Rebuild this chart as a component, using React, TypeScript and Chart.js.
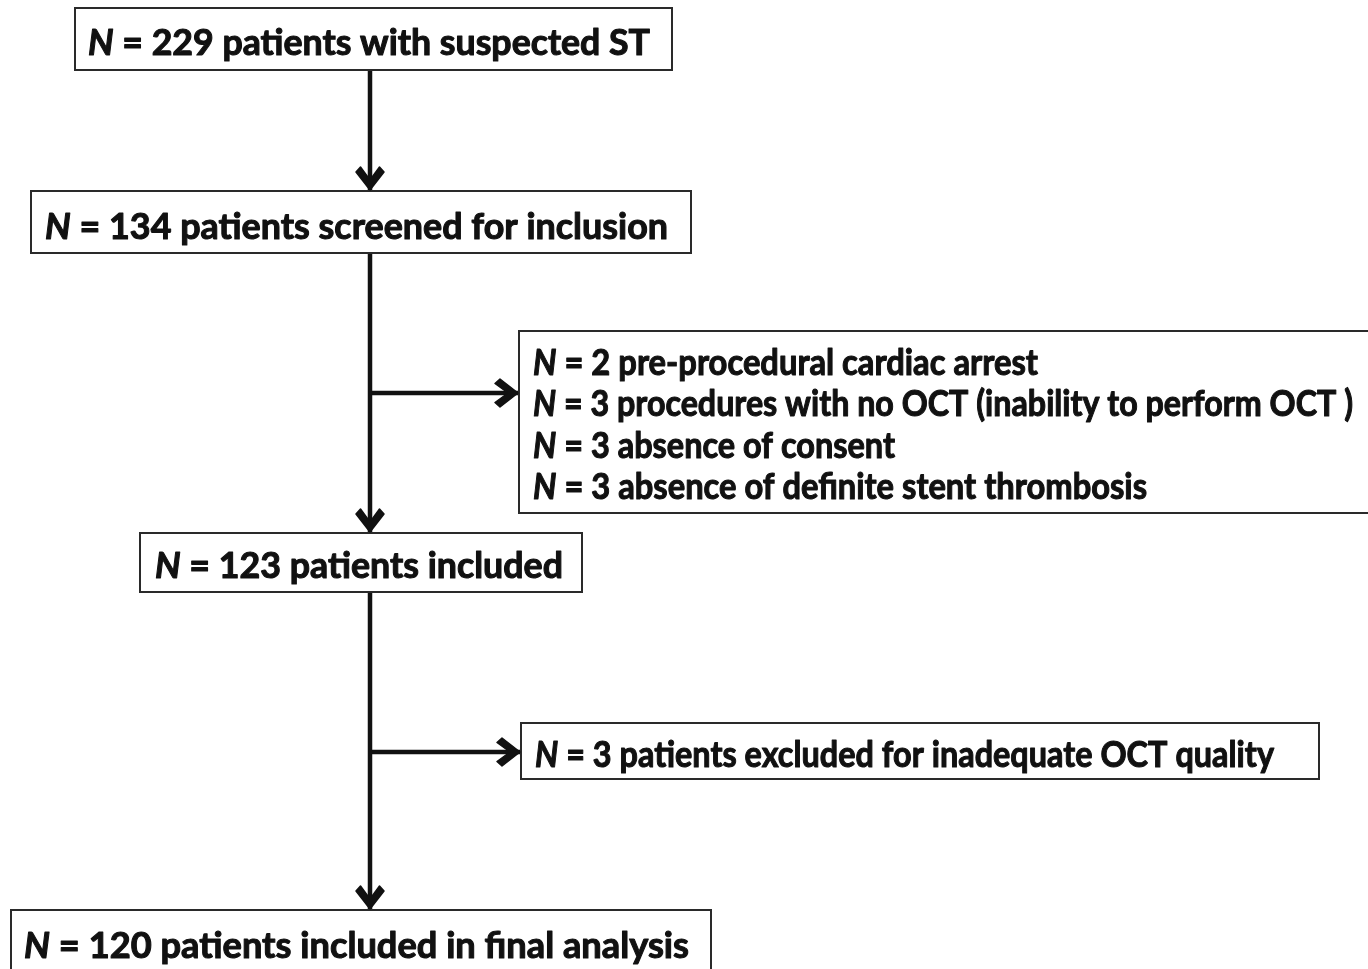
import React, { useEffect, useRef } from "react";
import { Chart, registerables } from "chart.js";

Chart.register(...registerables);

// ---- data ----
const stepCounts = [229, 134, 123, 120];
const stepTexts = [
  "patients with suspected ST",
  "patients screened for inclusion",
  "patients included",
  "patients included in final analysis",
];
const exclusionCountsA = [2, 3, 3, 3];
const exclusionTextsA = [
  "pre-procedural cardiac arrest",
  "procedures with no OCT (inability to perform OCT )",
  "absence of consent",
  "absence of definite stent thrombosis",
];
const exclusionCountsB = [3];
const exclusionTextsB = ["patients excluded for inadequate OCT quality"];

// ---- layout (in axis units, 1 unit = 1 px of the page) ----
const W = 1368;
const H = 969;
const TRUNK_X = 370;
const mainBoxes = [
  { x0: 75, x1: 672, y0: 8, y1: 70, tx: 88, te: 650, ty: 42 },
  { x0: 31, x1: 691, y0: 191, y1: 253, tx: 45, te: 668, ty: 226 },
  { x0: 140, x1: 582, y0: 533, y1: 592, tx: 155, te: 563, ty: 565 },
  { x0: 11, x1: 711, y0: 910, y1: 990, tx: 24, te: 689, ty: 945 },
];
const sideBoxA = {
  x0: 519, x1: 1380, y0: 331, y1: 513, tx: 533,
  lines: [362, 403, 445, 486],
  ends: [1038, 1353, 895, 1147],
};
const sideBoxB = { x0: 521, x1: 1319, y0: 723, y1: 779, tx: 535, lines: [754], ends: [1274] };
const connectors = [
  { from: [TRUNK_X, 70], to: [TRUNK_X, 190] },
  { from: [TRUNK_X, 253], to: [TRUNK_X, 532] },
  { from: [TRUNK_X, 592], to: [TRUNK_X, 909] },
  { from: [TRUNK_X, 393], to: [518, 393] },
  { from: [TRUNK_X, 752], to: [520, 752] },
];

const FONT_FAMILY = "Lato, 'Open Sans', sans-serif";
const FONT_SIZE = 37;
const CAP = FONT_SIZE * 0.716;
const INK = "#111111";

function drawLabel(
  ctx: CanvasRenderingContext2D,
  x: number,
  xEnd: number,
  cy: number,
  count: number,
  text: string
) {
  ctx.save();
  const rest = ` = ${count} ${text}`;
  ctx.font = `italic 700 ${FONT_SIZE}px ${FONT_FAMILY}`;
  const nw = ctx.measureText("N").width;
  ctx.font = `700 ${FONT_SIZE}px ${FONT_FAMILY}`;
  const rw = ctx.measureText(rest).width;
  const sx = (xEnd - x) / (nw + rw);
  ctx.translate(x, cy + CAP / 2);
  ctx.scale(sx, 1);
  ctx.fillStyle = INK;
  ctx.strokeStyle = INK;
  ctx.lineWidth = 1.1;
  ctx.lineJoin = "round";
  ctx.textBaseline = "alphabetic";
  ctx.textAlign = "left";
  ctx.font = `italic 700 ${FONT_SIZE}px ${FONT_FAMILY}`;
  ctx.fillText("N", 0, 0);
  ctx.strokeText("N", 0, 0);
  ctx.font = `700 ${FONT_SIZE}px ${FONT_FAMILY}`;
  ctx.fillText(rest, nw, 0);
  ctx.strokeText(rest, nw, 0);
  ctx.restore();
}

const flowPlugin = {
  id: "flowPlugin",
  afterDatasetsDraw(chart: any) {
    const ctx: CanvasRenderingContext2D = chart.ctx;
    const xs = chart.scales.x;
    const ys = chart.scales.y;
    const px = (v: number) => xs.getPixelForValue(v);
    const py = (v: number) => ys.getPixelForValue(v);

    const box = (b: { x0: number; x1: number; y0: number; y1: number }) => {
      ctx.save();
      ctx.fillStyle = "#ffffff";
      ctx.strokeStyle = "#2a2a2a";
      ctx.lineWidth = 2;
      const x0 = px(b.x0), x1 = px(b.x1), y0 = py(b.y0), y1 = py(b.y1);
      ctx.fillRect(x0, y0, x1 - x0, y1 - y0);
      ctx.strokeRect(x0, y0, x1 - x0, y1 - y0);
      ctx.restore();
    };

    mainBoxes.forEach((b, i) => {
      box(b);
      drawLabel(ctx, px(b.tx), px(b.te), py(b.ty), stepCounts[i], stepTexts[i]);
    });
    box(sideBoxA);
    sideBoxA.lines.forEach((ly, i) =>
      drawLabel(ctx, px(sideBoxA.tx), px(sideBoxA.ends[i]), py(ly), exclusionCountsA[i], exclusionTextsA[i])
    );
    box(sideBoxB);
    sideBoxB.lines.forEach((ly, i) =>
      drawLabel(ctx, px(sideBoxB.tx), px(sideBoxB.ends[i]), py(ly), exclusionCountsB[i], exclusionTextsB[i])
    );

    // thick filled chevron arrowheads
    const head: [number, number][] = [
      [0, 0], [-18, 14], [-23, 9.5], [-10, 0], [-23, -9.5], [-18, -14],
    ];
    connectors.forEach((c) => {
      const fx = px(c.from[0]), fy = py(c.from[1]);
      const tx = px(c.to[0]), ty = py(c.to[1]);
      const len = Math.hypot(tx - fx, ty - fy);
      const ux = (tx - fx) / len, uy = (ty - fy) / len;
      const nx = -uy, ny = ux;
      ctx.save();
      ctx.fillStyle = INK;
      ctx.strokeStyle = INK;
      ctx.lineWidth = 1.5;
      ctx.lineJoin = "round";
      ctx.beginPath();
      head.forEach(([a, b], k) => {
        const hx = tx + ux * a + nx * b;
        const hy = ty + uy * a + ny * b;
        if (k === 0) ctx.moveTo(hx, hy);
        else ctx.lineTo(hx, hy);
      });
      ctx.closePath();
      ctx.fill();
      ctx.stroke();
      ctx.restore();
    });
  },
};

export default function App() {
  const ref = useRef<HTMLCanvasElement | null>(null);
  useEffect(() => {
    if (!ref.current) return;
    const chart = new Chart(ref.current, {
      type: "scatter",
      data: {
        datasets: connectors.map((c) => ({
          data: [
            { x: c.from[0], y: c.from[1] },
            { x: c.to[0], y: c.to[1] },
          ],
          showLine: true,
          borderColor: INK,
          borderWidth: 4.5,
          pointRadius: 0,
          fill: false,
        })),
      },
      options: {
        responsive: false,
        animation: false,
        events: [],
        layout: { padding: 0 },
        plugins: { legend: { display: false }, tooltip: { enabled: false } },
        scales: {
          x: { type: "linear", min: 0, max: W, display: false },
          y: { type: "linear", min: 0, max: H, reverse: true, display: false },
        },
      },
      plugins: [flowPlugin],
    });
    return () => chart.destroy();
  }, []);
  return (
    <div style={{ position: "absolute", left: 0, top: 0, width: W, height: H, background: "#ffffff" }}>
      <canvas ref={ref} width={W} height={H} style={{ width: W, height: H, display: "block" }} />
    </div>
  );
}
